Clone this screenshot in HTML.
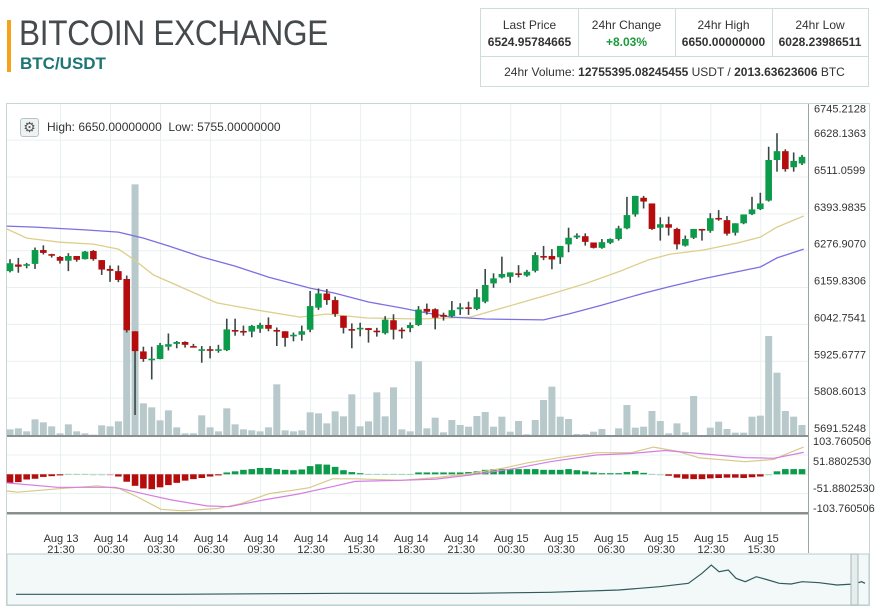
<!DOCTYPE html>
<html><head><meta charset="utf-8">
<style>
body{margin:0;background:#fff;font-family:"Liberation Sans",sans-serif;}
#wrap{position:relative;width:885px;height:614px;overflow:hidden;}
.abs{position:absolute;}
#stats{left:480px;top:8px;width:389px;height:79px;border:1px solid #cfdcdc;box-sizing:border-box;}
.cell{position:absolute;top:0;height:47px;width:97px;border-right:1px solid #cfdcdc;text-align:center;font-size:12px;color:#333;}
.cell .l{margin-top:9px;}
.cell .v{font-weight:bold;margin-top:3px;}
</style></head>
<body>
<div id="wrap">
  <div class="abs" style="left:7px;top:20px;width:4px;height:52px;background:#f5a31a"></div>
  <div class="abs" style="left:19px;top:14px;font-size:35px;color:#454a4d;letter-spacing:-0.3px;transform:scaleX(0.9);transform-origin:0 0;white-space:nowrap;">BITCOIN EXCHANGE</div>
  <div class="abs" style="left:20px;top:54px;font-size:17px;font-weight:bold;color:#1b7675;">BTC/USDT</div>
  <div id="stats" class="abs">
    <div class="cell" style="left:0"><div class="l">Last Price</div><div class="v">6524.95784665</div></div>
    <div class="cell" style="left:97px"><div class="l">24hr Change</div><div class="v" style="color:#1a9a3a">+8.03%</div></div>
    <div class="cell" style="left:194px"><div class="l">24hr High</div><div class="v">6650.00000000</div></div>
    <div class="cell" style="left:291px;border-right:none;width:96px"><div class="l">24hr Low</div><div class="v">6028.23986511</div></div>
    <div class="abs" style="left:0;top:47px;width:387px;height:30px;border-top:1px solid #cfdcdc;text-align:center;font-size:12px;line-height:30px;color:#333">24hr Volume: <b>12755395.08245455</b> USDT / <b>2013.63623606</b> BTC</div>
  </div>
  <svg class="abs" style="left:0;top:0" width="885" height="614" id="chart"></svg>
  <div class="abs" style="left:20px;top:118px;width:17px;height:17px;border:1px solid #b7c4c6;border-radius:3px;background:#eef2f3;text-align:center;font-size:14px;line-height:17px;color:#555">⚙</div>
  <div class="abs" style="left:47px;top:120px;font-size:12px;color:#333">High: 6650.00000000&nbsp; Low: 5755.00000000</div>
</div>
<script>
const opens=[6212,6233,6231,6235,6279,6266,6257,6245,6260,6250,6276,6247,6219,6212,6187,6021,5957,5931,5933,5972,5981,5987,5974,5962,5964,5961,
5961,6025,6022,6020,6029,6041,6025,6021,6005,6010,6026,6096,6141,6120,6070,6028,6029,6031,6023,6015,6056,6026,6031,6041,6092,
6091,6073,6069,6091,6097,6092,6115,6173,6192,6194,6205,6198,6213,6260,6260,6256,6297,6319,6323,6303,6286,6302,6314,6348,6392,6445,6427,6350,6361,6346,6293,6318,6346,6340,6381,6374,6334,6364,6393,6409,6436,6565,6593,6542,6554];
const closes=[6237,6226,6234,6279,6270,6261,6245,6260,6248,6274,6250,6217,6213,6184,6024,5958,5933,5934,5977,5980,5987,5978,5971,5964,5961,5964,
6027,6022,6018,6038,6041,6029,6020,6000,6010,6021,6101,6141,6120,6076,6032,6025,6032,6025,6020,6058,6026,6023,6041,6090,6083,
6064,6067,6088,6097,6094,6129,6168,6189,6203,6208,6200,6210,6263,6256,6249,6292,6318,6325,6305,6286,6304,6314,6348,6390,6451,6433,6346,6361,6350,6297,6314,6346,6343,6380,6377,6331,6364,6392,6408,6427,6565,6593,6536,6562,6575];
const highs=[6250,6254,6238,6287,6294,6267,6260,6269,6260,6276,6279,6247,6230,6230,6198,6021,5972,5972,5984,6014,5990,5989,5981,5974,5974,5978,
6061,6061,6039,6041,6048,6065,6033,6021,6017,6039,6149,6157,6155,6131,6070,6046,6048,6031,6032,6069,6075,6033,6049,6101,6109,
6094,6080,6117,6110,6115,6155,6219,6205,6258,6208,6231,6216,6272,6292,6282,6292,6350,6332,6332,6303,6314,6316,6356,6448,6451,6451,6427,6383,6385,6350,6325,6346,6346,6396,6406,6387,6364,6392,6448,6461,6607,6650,6599,6589,6581];
const lows=[6208,6207,6221,6219,6265,6255,6236,6212,6242,6249,6245,6200,6178,6177,6017,5755,5924,5868,5932,5960,5967,5969,5970,5921,5935,5953,
5958,6007,6007,6002,6016,6021,5974,5972,5989,5991,6018,6089,6105,6067,6014,5967,6005,5985,6004,6011,5995,5998,6018,6038,6074,
6027,6055,6065,6073,6073,6088,6110,6159,6189,6175,6192,6194,6208,6247,6218,6235,6272,6314,6293,6284,6283,6298,6309,6345,6385,6411,6343,6309,6325,6281,6290,6314,6309,6334,6372,6325,6325,6361,6390,6406,6433,6528,6528,6528,6549];
const volumes=[17,20,11,47,38,26,5,32,11,5,1,29,26,41,314,752,95,83,44,74,23,5,5,59,23,11,
80,32,17,14,11,23,152,14,11,14,68,65,35,71,56,122,26,41,128,56,143,17,11,221,20,
52,8,45,30,25,57,69,25,55,10,42,2,45,105,145,55,48,3,3,10,18,0,20,90,22,25,72,42,5,35,8,117,0,22,40,18,7,7,55,58,297,187,72,55,30];
const maFastIdx=[-0.4,2,6,10,13,14.8,17.2,20.8,24.8,28.8,34.8,38,42.8,49.2,55.2,61.2,65.2,69.2,73.2,76.5,79.2,83.2,87.2,90,92,95.2];
const maFastVal=[6346,6317,6304,6298,6282,6250,6200,6158,6111,6092,6066,6076,6063,6060,6066,6111,6142,6174,6212,6247,6266,6279,6301,6320,6352,6387];
const maSlowIdx=[-0.4,3,9,13,16,19,23,27,31,36,39,43,47,50,53,57,64,67,71,76,79,83,87,90,92,95.2];
const maSlowVal=[6355,6352,6343,6336,6317,6292,6257,6228,6193,6158,6142,6114,6095,6079,6066,6060,6057,6076,6104,6142,6162,6187,6209,6225,6254,6282];
const histVals=[-23,-21,-14,-12,-7,-5,-3,1,1,1,0,0,-1,-6,-20,-31,-38,-40,-35,-29,-23,-17,-13,-10,-6,-3,5,8,12,14,17,17,14,12,11,13,22,27,26,20,11,6,3,1,1,1,1,1,1,5,5,5,5,5,5,6,8,12,14,14,14,14,14,14,12,12,12,14,11,8,5,3,3,3,6,9,4,1,0,-4,-9,-12,-13,-13,-11,-10,-9,-9,-10,-8,-6,0,8,14,14,14];
const macdIdx=[-0.4,0.9,5.7,10.5,13.2,15.3,18.1,20.8,24.9,27.7,31.1,33.9,35.9,38.7,41.4,46.9,51.1,55.2,59.3,62.1,66.2,70.3,74.5,77.2,80,82.7,88.2,91.6,93.7,95.2];
const macdVals=[-45,-48,-39,-31,-39,-61,-94,-98,-92,-79,-52,-43,-36,-12,-12,-16,-9,2,17,31,46,58,58,73,62,44,34,40,60,73];
const signalIdx=[-0.4,5.7,12.6,16.7,19.4,23.6,26.3,30.4,34.6,38.7,41.4,46.9,51.1,55.2,60.7,64.8,70.3,74.5,78.6,82.7,88.2,91.6,95.2];
const signalVals=[-23,-35,-35,-56,-69,-85,-87,-69,-53,-33,-19,-16,-13,-2,16,34,52,56,64,56,45,43,59];
const navTime=[0,.184,.386,.535,.629,.710,.758,.792,.808,.819,.828,.839,.848,.859,.872,.886,.899,.913,.926,.946,.967,.987,.996,1];
const navVals=[6.4,6.4,8.4,8.4,10.4,15,21.6,28.4,48.4,65,51.6,55,38.4,31.6,41.6,35,28.4,27,31.6,29.6,25,27,31.6,28.4];
const priceTicks=["6745.2128","6628.1363","6511.0599","6393.9835","6276.9070","6159.8306","6042.7541","5925.6777","5808.6013","5691.5248"];
const macdTicks=["103.760506","51.8802530","-51.8802530","-103.760506"];
const timeTickIdx=[6,12,18,24,30,36,42,48,54,60,66,72,78,84,90];
const timeDays=["Aug 13","Aug 14","Aug 14","Aug 14","Aug 14","Aug 14","Aug 14","Aug 14","Aug 14","Aug 15","Aug 15","Aug 15","Aug 15","Aug 15","Aug 15"];
const timeHours=["21:30","00:30","03:30","06:30","09:30","12:30","15:30","18:30","21:30","00:30","03:30","06:30","09:30","12:30","15:30"];

const NS="http://www.w3.org/2000/svg";
const svg=document.getElementById('chart');
const PMIN=5691.5248, PSTEP=117.0765, PX_STEP=36.86;
function xAt(i){return 10+8.337*i;}
function yPrice(p){return 435-(p-PMIN)/PSTEP*PX_STEP;}
function yVol(v){return v/3;}
function yMacd(v){return 474.3-v*19.3/51.88;}
function mk(tag,attrs,parent){const e=document.createElementNS(NS,tag);for(const k in attrs)e.setAttribute(k,attrs[k]);(parent||svg).appendChild(e);return e;}

let e=mk('rect',{x:6.5,y:103.5,width:863,height:502,fill:'none',stroke:'#c9d6d6'});


timeTickIdx.forEach(i=>{const x=xAt(i)+0.5;
 const l=mk('line',{x1:x,x2:x,y1:104,y2:513,stroke:'#e9f0f0'});
 
 });
priceTicks.forEach((t,k)=>{const y=yPrice(parseFloat(t));
 if(k>0&&k<priceTicks.length-1){const l=mk('line',{x1:7,x2:808,y1:y,y2:y,stroke:'#e9f0f0'});
 
 }
 const tx=mk('text',{x:814,y:y-(k==0?-9:3),'font-size':11,fill:'#333','font-family':'Liberation Sans'});
 tx.textContent=t;
 
 });
volumes.forEach((v,i)=>{const h=yVol(v);
 const r=mk('rect',{x:xAt(i)-3.5,y:435-h,width:7,height:h,fill:'#b7c9cb'});
 
 });
function polyline(idx,vals,fy,color,name,w){const pts=idx.map((i,k)=>xAt(i).toFixed(1)+','+fy(vals[k]).toFixed(1)).join(' ');
 const p=mk('polyline',{points:pts,fill:'none',stroke:color,'stroke-width':w||1.3});
 
 }
polyline(maFastIdx,maFastVal,yPrice,'#dccf8c','ma-fast-line');
polyline(maSlowIdx,maSlowVal,yPrice,'#7b6fe3','ma-slow-line');
opens.forEach((o,i)=>{const c=closes[i],x=xAt(i);const up=c>=o;const col=up?'#0b9b4a':'#b50d0d';
 const w=mk('line',{x1:x,x2:x,y1:yPrice(highs[i]),y2:yPrice(lows[i]),stroke:'#3b4745','stroke-width':1.6});
 
 
 const top=yPrice(Math.max(o,c)),bot=yPrice(Math.min(o,c));
 const b=mk('rect',{x:x-3.3,y:top,width:6.6,height:Math.max(1.6,bot-top),fill:col});
 
 });
e=mk('rect',{x:7,y:435,width:801,height:2,fill:'#8a8f8f'});


e=mk('rect',{x:7,y:512,width:801,height:2.5,fill:'#8a8f8f'});


e=mk('line',{x1:808.5,x2:808.5,y1:104,y2:553,stroke:'#9aa6a6'});


macdTicks.forEach((t,k)=>{const v=parseFloat(t);const y=yMacd(v);
 if(Math.abs(v)<100){const l=mk('line',{x1:7,x2:808,y1:y,y2:y,stroke:'#e9f0f0'});
 
 }
 const ly=[445,465,492,512][k];
 const tx=mk('text',{x:813,y:ly,'font-size':11,fill:'#333','font-family':'Liberation Sans'});
 tx.textContent=t;
 
 });
e=mk('line',{x1:7,x2:808,y1:yMacd(0),y2:yMacd(0),stroke:'#e4ecec'});


histVals.forEach((v,i)=>{const y0=yMacd(0),y1=yMacd(v);
 const r=mk('rect',{x:xAt(i)-3.3,y:Math.min(y0,y1),width:6.6,height:Math.max(1,Math.abs(y1-y0)),fill:v>=0?'#0b9b4a':'#b50d0d'});
 if(Math.abs(v)<2)r.setAttribute('fill',v>=0?'#9fd8b6':'#d9a0a0');
 
 });
polyline(macdIdx,macdVals,yMacd,'#d6c987','macd-line',1.2);
polyline(signalIdx,signalVals,yMacd,'#d57ee2','signal-line',1.2);
timeTickIdx.forEach((i,k)=>{const x=xAt(i)+1;
 const t1=mk('text',{x:x,y:542,'font-size':11,fill:'#333','text-anchor':'middle','font-family':'Liberation Sans'});
 t1.textContent=timeDays[k];
 
 
 const t2=mk('text',{x:x,y:553,'font-size':11,fill:'#333','text-anchor':'middle','font-family':'Liberation Sans'});
 t2.textContent=timeHours[k];
 
 });
e=mk('rect',{x:7,y:554,width:862,height:51,fill:'#f3f8f8',stroke:'#b9cccc'});


const navPts=navTime.map((t,k)=>(16+t*849).toFixed(1)+','+(597.5-navVals[k]/2).toFixed(1)).join(' ');
e=mk('polyline',{points:navPts,fill:'none',stroke:'#2f5b5e','stroke-width':1.2});


e=mk('rect',{x:851,y:554,width:7,height:51,fill:'#e6eded',stroke:'#a8b8b8'});


</script>
</body></html>
